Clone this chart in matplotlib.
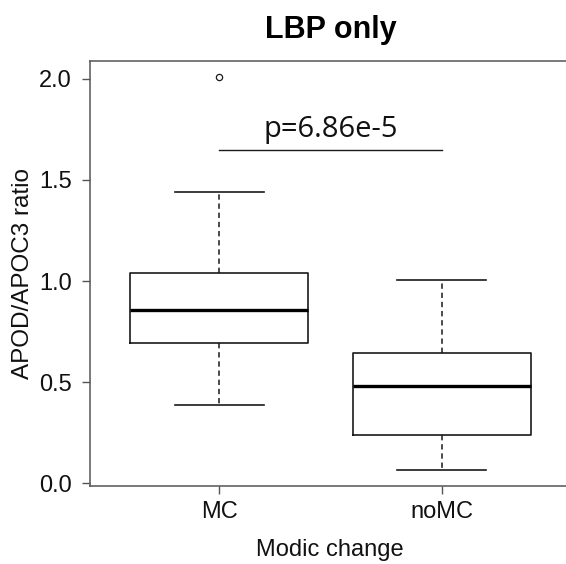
import matplotlib
matplotlib.use("Agg")
import matplotlib.pyplot as plt

groups = ["MC", "noMC"]
q1 = [0.693, 0.238]
med = [0.856, 0.480]
q3 = [1.040, 0.644]
whislo = [0.386, 0.064]
whishi = [1.440, 1.005]
outliers = [[2.010], []]
p_label = "p=6.86e-5"
bracket_y = 1.65

W, H = 566, 564
fig = plt.figure(figsize=(W / 100, H / 100), dpi=100)
# plot region in pixels: left 90, bottom edge at 486, top at 61; right border runs off the canvas
ax_l, ax_top, ax_bot, ax_w = 90, 61, 486, 481
ax = fig.add_axes([ax_l / W, (H - ax_bot) / H, ax_w / W, (ax_bot - ax_top) / H])

stats = []
for i, g in enumerate(groups):
    stats.append(dict(label=g, q1=q1[i], med=med[i], q3=q3[i],
                      whislo=whislo[i], whishi=whishi[i], fliers=outliers[i]))

line_col = "#1a1a1a"
ax.bxp(stats, positions=[1, 2], widths=0.8, patch_artist=False,
       boxprops=dict(color=line_col, linewidth=1.2),
       medianprops=dict(color="black", linewidth=2.4),
       whiskerprops=dict(color=line_col, linewidth=1.1, linestyle=(0, (3.5, 2.5))),
       capprops=dict(color=line_col, linewidth=1.2),
       capwidths=0.4,
       flierprops=dict(marker="o", markersize=4.5, markerfacecolor="none",
                       markeredgecolor=line_col, markeredgewidth=0.9))

ax.set_xlim(0.42, 2.58)
ax.set_ylim(-0.013, 2.088)

ax.plot([1, 2], [bracket_y, bracket_y], color=line_col, linewidth=1.0)
ax.text(1.5, bracket_y + 0.063, p_label, ha="center", va="baseline",
        fontsize=21, family="Open Sans", color="#111111")

for s in ["top", "right", "left", "bottom"]:
    ax.spines[s].set_color("#555555")
    ax.spines[s].set_linewidth(1.1)

ax.set_yticks([0.0, 0.5, 1.0, 1.5, 2.0])
ax.set_yticklabels(["0.0", "0.5", "1.0", "1.5", "2.0"])
ax.set_xticks([1, 2])
ax.set_xticklabels(groups)
ax.tick_params(axis="both", length=6, width=1.0, color="#555555",
               labelsize=17, labelcolor="#111111")
ax.tick_params(axis="x", pad=5)
ax.tick_params(axis="y", pad=7)
for lab in ax.get_xticklabels() + ax.get_yticklabels():
    lab.set_family("Liberation Sans")

ax.set_xlabel("Modic change", fontsize=17, family="Liberation Sans",
              color="#111111", va="center")
ax.set_ylabel("APOD/APOC3 ratio", fontsize=17.5, family="Liberation Sans",
              color="#111111", va="center")
ax.xaxis.set_label_coords(0.5 + (327 - 330.5) / ax_w * 0, (ax_bot - 550) / (ax_bot - ax_top))
ax.xaxis.set_label_coords((330 - ax_l) / ax_w, (ax_bot - 550) / (ax_bot - ax_top))
ax.yaxis.set_label_coords((23 - ax_l) / ax_w, 0.5)

fig.text(331 / W, 1 - 30 / H, "LBP only", ha="center", va="center",
         fontsize=22, fontweight="bold", family="Liberation Sans")

fig.savefig("out.png", dpi=100)
